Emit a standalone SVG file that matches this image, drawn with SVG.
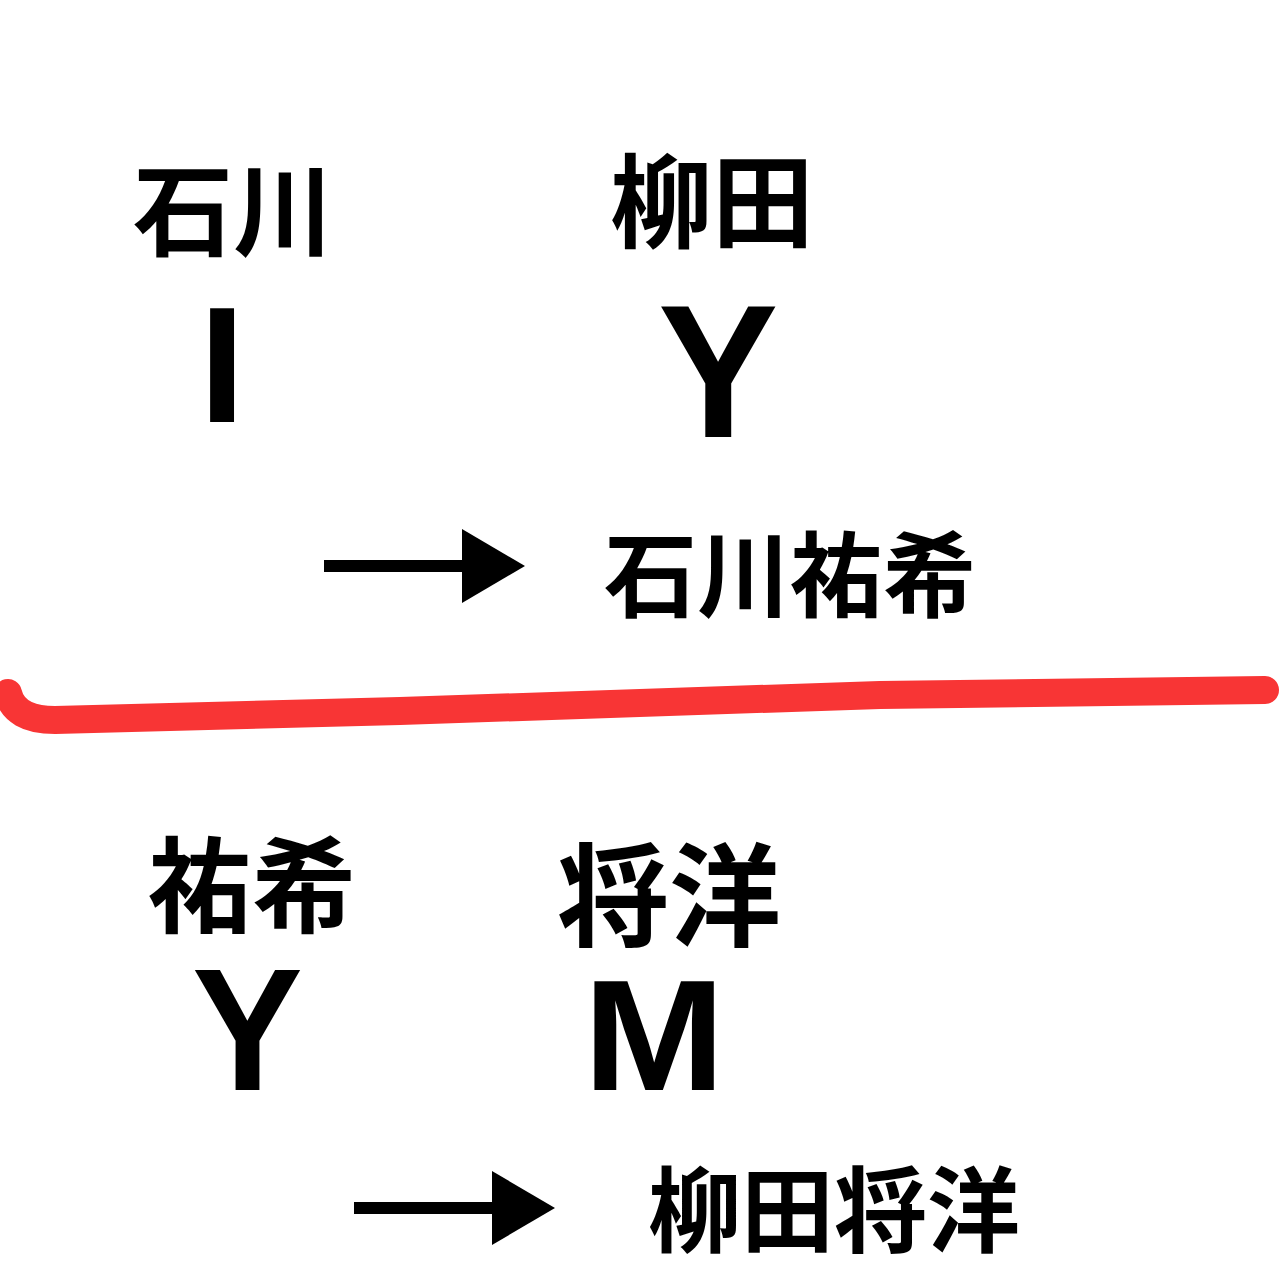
<svg xmlns="http://www.w3.org/2000/svg" width="1280" height="1280" viewBox="0 0 1280 1280">
<style>
.cjk{font-family:"Noto Sans CJK JP","Noto Sans CJK SC",sans-serif;font-weight:700;fill:#000}
.lat{font-family:"Liberation Sans",Arial,sans-serif;font-weight:bold;fill:#000}
.shaft{stroke:#000;stroke-width:12;fill:none}
</style>
<rect width="1280" height="1280" fill="#fff"/>
<g id="top-names">
<text class="cjk" x="133" y="248" font-size="100">石川</text>
<text class="cjk" x="610" y="240" font-size="102">柳田</text>
</g>
<g id="top-letters">
<text class="lat" x="199" y="422" font-size="166">I</text>
<text class="lat" x="0" y="0" font-size="190" transform="translate(658,437) scale(0.95,1)">Y</text>
</g>
<g id="connectors">
<line class="shaft" x1="324" y1="566" x2="465" y2="566"/>
<polygon points="462,529 525,566 462,603" fill="#000"/>
<line class="shaft" x1="354" y1="1208" x2="495" y2="1208"/>
<polygon points="492,1171 555,1208 492,1245" fill="#000"/>
</g>
<g id="result1">
<text class="cjk" x="604" y="610" font-size="93">石川祐希</text>
</g>
<g id="divider">
<path d="M 8 693 Q 14 720 55 720 L 400 711 L 880 695 L 1265 690" fill="none" stroke="#f83535" stroke-width="28" stroke-linecap="round" stroke-linejoin="round"/>
</g>
<g id="bottom-names">
<text class="cjk" x="148" y="925" font-size="104">祐希</text>
<text class="cjk" x="557" y="938" font-size="112">将洋</text>
</g>
<g id="bottom-letters">
<text class="lat" x="0" y="0" font-size="175" transform="translate(192,1090) scale(0.95,1)">Y</text>
<text class="lat" x="0" y="0" font-size="158" transform="translate(583,1090) scale(1.08,1)">M</text>
</g>
<g id="result2">
<text class="cjk" x="648" y="1245" font-size="93">柳田将洋</text>
</g>
</svg>
